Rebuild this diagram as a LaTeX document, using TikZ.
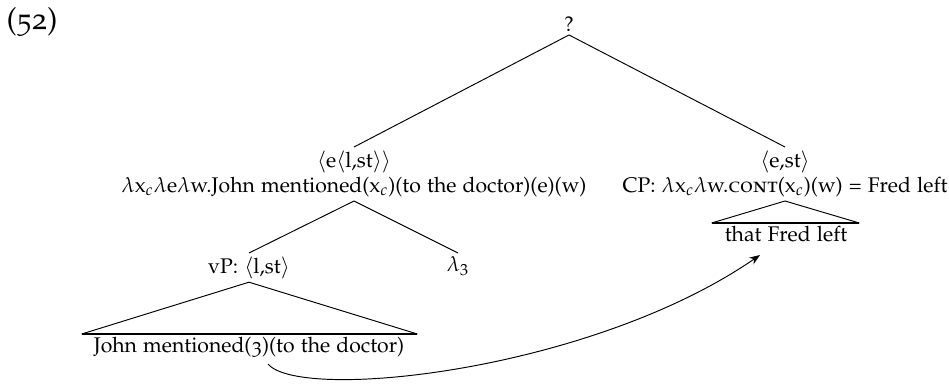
\documentclass[tikz,border=0pt]{standalone}
\usepackage[T1]{fontenc}
\usepackage[osf]{mathpazo}
\usetikzlibrary{arrows.meta}
\newcommand{\typ}[1]{$\langle$#1$\rangle$}
\newcommand{\xc}{x$_c$}
\tikzset{
    lbl/.style={inner sep=1.5pt,align=center},
    branch/.style={draw,line width=0.45pt},
    roofbase/.style={draw,line width=1pt},
    move/.style={draw,->,>=Stealth,line width=0.45pt},
}

\begin{document}
\begin{tikzpicture}[x=0.472pt,y=-0.472pt]
    \useasboundingbox (0,0) rectangle (949,385);

    \node[lbl,font=\Large] (num) at (32,22) {(52)};
    \node[lbl] (root) at (569,24) {?};

    % upper level
    \node[lbl,anchor=north] (lft) at (354,147)
        {\typ{e\typ{l,st}}\\$\lambda$\xc$\lambda$e$\lambda$w.John mentioned(\xc)(to the doctor)(e)(w)};
    \node[lbl,anchor=north] (rgt) at (785,147)
        {\typ{e,st}\\CP: $\lambda$\xc$\lambda$w.\textsc{cont}(\xc)(w) = Fred left};
    \path[branch] (root.south) -- (lft.north) (root.south) -- (rgt.north);

    % under the CP
    \node[lbl,anchor=north] (fred) at (786,223) {that Fred left};
    \draw[branch] ([xshift=-4.5pt]fred.north west) -- (rgt.south) -- ([xshift=4pt]fred.north east);
    \draw[roofbase] ([xshift=-4.5pt]fred.north west) -- ([xshift=4pt]fred.north east);

    % under the left node
    \node[lbl,anchor=north] (vp) at (249,253) {vP: \typ{l,st}};
    \node[lbl,anchor=north] (lam) at (458,253) {$\lambda_3$};
    \path[branch] (lft.south) -- (vp.north) (lft.south) -- (lam.north);

    \node[lbl,anchor=north] (john) at (249,334) {John mentioned(3)(to the doctor)};
    \draw[branch] ([xshift=-4pt]john.north west) -- (vp.south) -- ([xshift=4.5pt]john.north east);
    \draw[roofbase] ([xshift=-4pt]john.north west) -- ([xshift=4.5pt]john.north east);

    % movement of the clause
    \coordinate (trace) at (268,364);
    \coordinate (land) at (760,255);
    \draw[move] (trace) .. controls (300,402) and (590,372) .. (land);
\end{tikzpicture}
\end{document}
